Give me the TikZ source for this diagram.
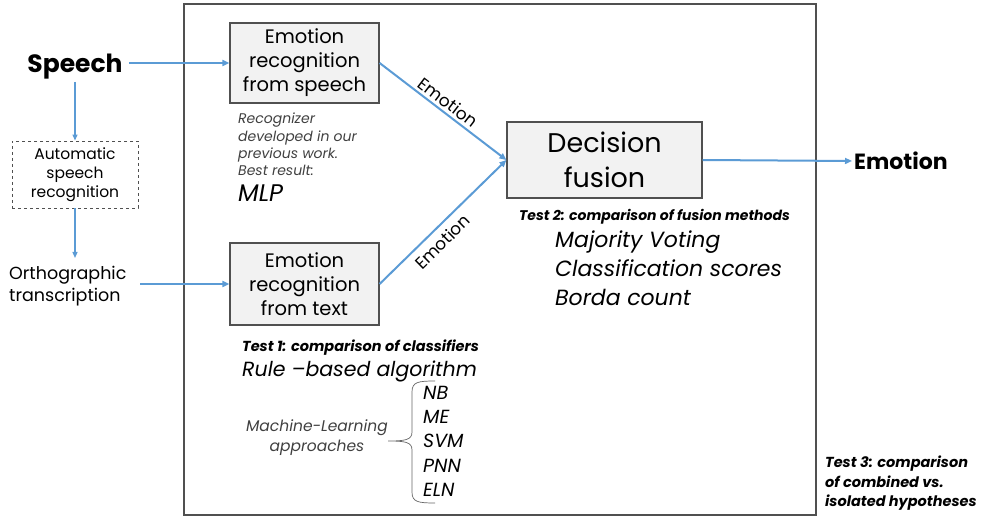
\documentclass[tikz,border=0pt]{standalone}
\usepackage{fontspec}
\setmainfont{Poppins}
\usetikzlibrary{arrows.meta}
\definecolor{arrowblue}{HTML}{5B9BD5}
\definecolor{boxfill}{HTML}{F2F2F2}
\definecolor{boxline}{HTML}{505050}
\tikzset{
  procbox/.style={draw=boxline, fill=boxfill, line width=1.2pt, align=center, inner sep=0pt},
  flow/.style={draw=arrowblue, line width=2pt, -{Triangle[length=7pt,width=6pt]}},
  thinflow/.style={draw=arrowblue, line width=1.3pt, -{Triangle[length=6pt,width=5pt]}},
  plain/.style={inner sep=0pt, align=left},
}
\begin{document}
\begin{tikzpicture}[x=1pt,y=-1pt]
\useasboundingbox (0,0) rectangle (985,521);
% frame
\draw[draw=boxline, line width=1.3pt] (184,4) rectangle (816,515);
% boxes
\node[procbox, minimum width=149pt, minimum height=80pt, font=\fontsize{19.5}{24}\selectfont] (speechbox) at (304.5,63) {Emotion\\recognition\\from speech};
\node[procbox, minimum width=149pt, minimum height=82pt, font=\fontsize{19.5}{24}\selectfont] (textbox) at (304.5,284) {Emotion\\recognition\\from text};
\node[procbox, minimum width=195pt, minimum height=76pt, font=\fontsize{27}{35}\selectfont] (fusion) at (604.5,160) {Decision\\fusion};
\node[draw=boxline, dashed, line width=0.9pt, minimum width=126pt, minimum height=67pt, align=center, inner sep=0pt, font=\fontsize{15.5}{19}\selectfont] (asr) at (75,174.5) {\raisebox{-2pt}{\begin{tabular}{@{}c@{}}Automatic\\speech\\recognition\end{tabular}}};
% inputs / outputs
\node[inner sep=2pt, font=\fontsize{25}{30}\selectfont\bfseries] (speech) at (75,67) {Speech};
\node[inner sep=1pt, align=left, font=\fontsize{17.5}{22}\selectfont, anchor=north west] (ortho) at (8,265) {Orthographic\\transcription};
\node[inner sep=2pt, font=\fontsize{22}{26}\selectfont\bfseries, anchor=west] (outemo) at (852,161) {Emotion};
% connectors
\draw[flow] ([xshift=4pt]speech.east |- speechbox.west) -- (speechbox.west);
\draw[thinflow] (speech.south) -- (asr.north);
\coordinate (orthotop) at (75,258);
\draw[thinflow] (asr.south) -- (orthotop);
\coordinate (orthoout) at (140,284);
\draw[flow] (orthoout) -- (textbox.west);
\draw[flow] (speechbox.east) -- node[sloped, above=3pt, pos=0.49, inner sep=0pt, font=\fontsize{17}{20}\selectfont] (lab1) {Emotion} (fusion.west);
\draw[flow] (textbox.east) -- node[sloped, below=6pt, pos=0.42, inner sep=0pt, font=\fontsize{17}{20}\selectfont] (lab2) {Emotion} (fusion.west);
\draw[flow] (fusion.east) -- (outemo.west);
% annotations
\node[plain, anchor=north west, font=\fontsize{14}{17.3}\selectfont\itshape, text=black!75] (recog) at (238,113) {Recognizer\\developed in our\\previous work.\\Best result:};
\node[plain, anchor=north west, font=\fontsize{24}{28}\selectfont\itshape] (mlp) at (238,185) {MLP};
\node[plain, anchor=north west, font=\fontsize{14.5}{17}\selectfont\bfseries\itshape] (test1) at (242,340) {Test 1: comparison of classifiers};
\node[plain, anchor=north west, font=\fontsize{20.5}{24}\selectfont\itshape] (rule) at (242,361) {Rule –based algorithm};
\node[plain, anchor=north west, font=\fontsize{19}{24.2}\selectfont\itshape] (mlist) at (423,386) {NB\\ME\\SVM\\PNN\\ELN};
\node[inner sep=0pt, align=center, font=\fontsize{15.5}{20}\selectfont\itshape, text=black!75] (mlapp) at (317,438) {Machine-Learning\\approaches};
\draw[draw=black!60, line width=0.7pt] (435,381) .. controls (418,381) and (412,382) .. (412,392) -- (412,432) .. controls (412,440) and (405,441) .. (388,441) .. controls (405,441) and (412,442) .. (412,450) -- (412,492) .. controls (412,502) and (418,503) .. (435,503);
\node[plain, anchor=north west, font=\fontsize{14}{17}\selectfont\bfseries\itshape] (test2) at (519,209) {Test 2: comparison of fusion methods};
\node[plain, anchor=north west, font=\fontsize{22}{28.8}\selectfont\itshape] (fmeth) at (555,231) {Majority Voting\\Classification scores\\Borda count};
\node[plain, anchor=north west, font=\fontsize{14.5}{19.5}\selectfont\bfseries\itshape] (test3) at (825,456) {Test 3: comparison\\of combined vs.\\isolated hypotheses};
\end{tikzpicture}
\end{document}
